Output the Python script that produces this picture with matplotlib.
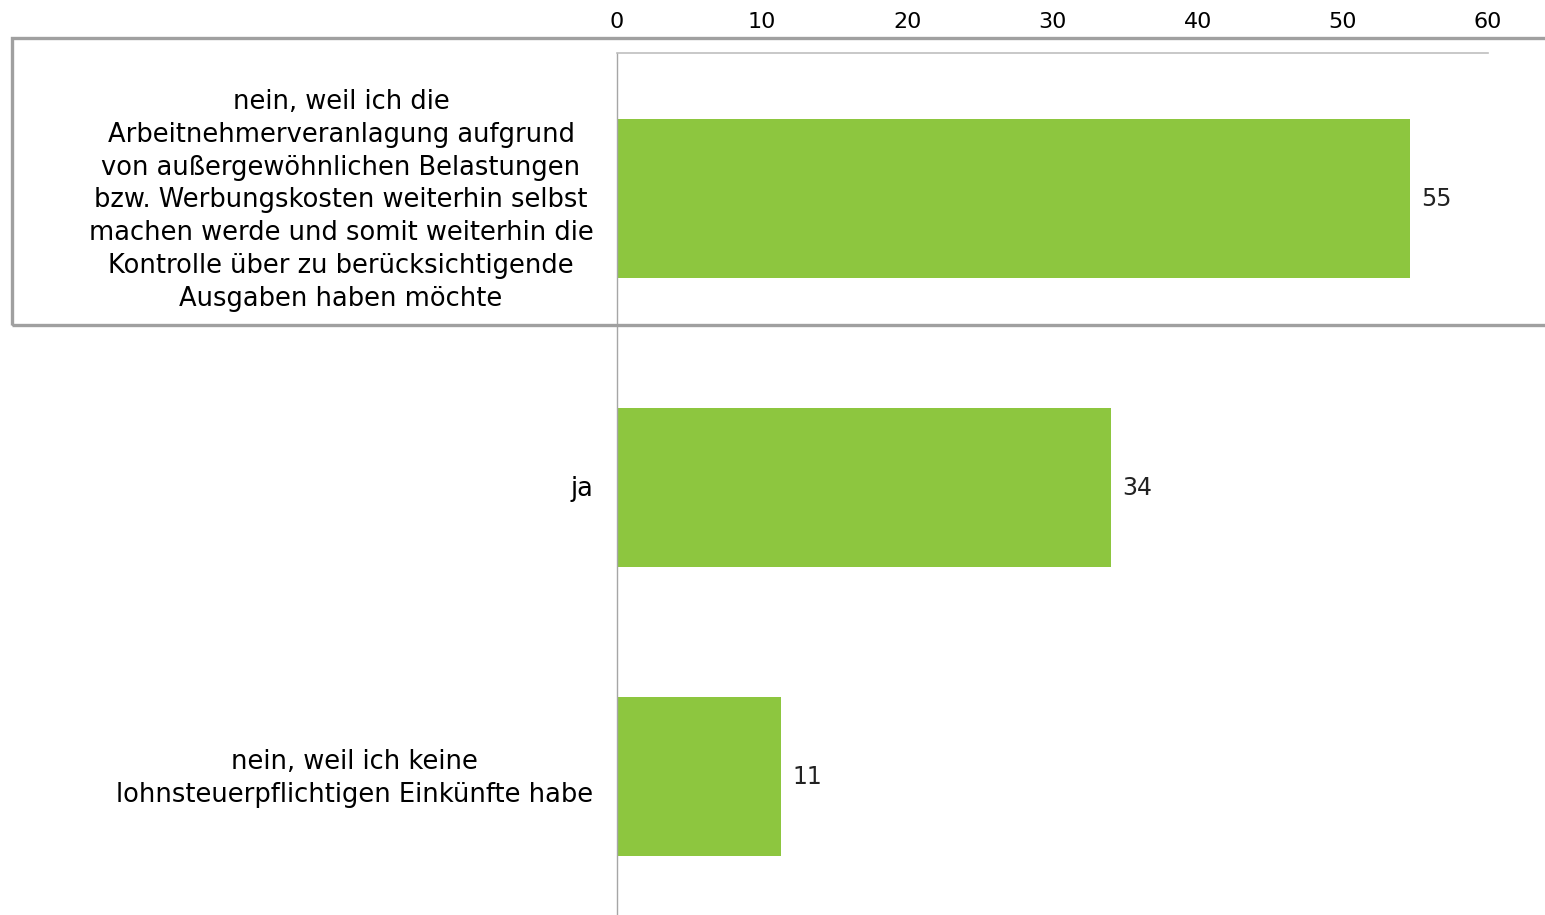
import matplotlib.pyplot as plt
from matplotlib.patches import Rectangle
from matplotlib.transforms import ScaledTranslation

categories = [
    "nein, weil ich die\nArbeitnehmerveranlagung aufgrund\nvon außergewöhnlichen Belastungen\nbzw. Werbungskosten weiterhin selbst\nmachen werde und somit weiterhin die\nKontrolle über zu berücksichtigende\nAusgaben haben möchte",
    "ja",
    "nein, weil ich keine\nlohnsteuerpflichtigen Einkünfte habe",
]
values = [54.6, 34.0, 11.3]
xticks = [0, 10, 20, 30, 40, 50, 60]

green = "#8DC63F"
W, H = 1545, 915

fig = plt.figure(figsize=(W / 100, H / 100), dpi=100)
ax = fig.add_axes([617 / W, 0, (1488 - 617) / W, 1 - 53 / H])

pos = list(range(len(values)))
bars = ax.barh(pos, values, height=0.55, color=green)
ax.set_xlim(0, 60)
ax.set_ylim(2.478, -0.505)

ax.xaxis.tick_top()
ax.set_xticks(xticks)
ax.set_xticklabels([str(t) for t in xticks], fontsize=16, family="DejaVu Sans")
ax.tick_params(axis="x", length=0, pad=15, colors="black")
ax.set_yticks(pos)
ax.set_yticklabels(categories, fontsize=18.5, family="DejaVu Sans",
                   multialignment="center", linespacing=1.34)
ax.tick_params(axis="y", length=0, pad=17)

# nudge the labels up a little
for lab, dy in zip(ax.get_yticklabels(), [5, 2, 5]):
    lab.set_transform(lab.get_transform() + ScaledTranslation(0, dy / 100, fig.dpi_scale_trans))

for s in ["right", "bottom"]:
    ax.spines[s].set_visible(False)
ax.spines["top"].set_color("#bfbfbf")
ax.spines["left"].set_color("#a6a6a6")
ax.spines["top"].set_linewidth(1.2)
ax.spines["left"].set_linewidth(1.0)

for b, v in zip(bars, values):
    ax.text(v + 0.8, b.get_y() + b.get_height() / 2, f"{v:.0f}",
            va="center", ha="left", fontsize=17, color="#222222")

# highlight box around first category
fig.patches.append(Rectangle((12 / W, 1 - 325 / H), (W + 20 - 12) / W, (325 - 38) / H,
                             transform=fig.transFigure, fill=False,
                             edgecolor="#a0a0a0", linewidth=2.4, clip_on=False))

fig.savefig("out.png", dpi=100)
